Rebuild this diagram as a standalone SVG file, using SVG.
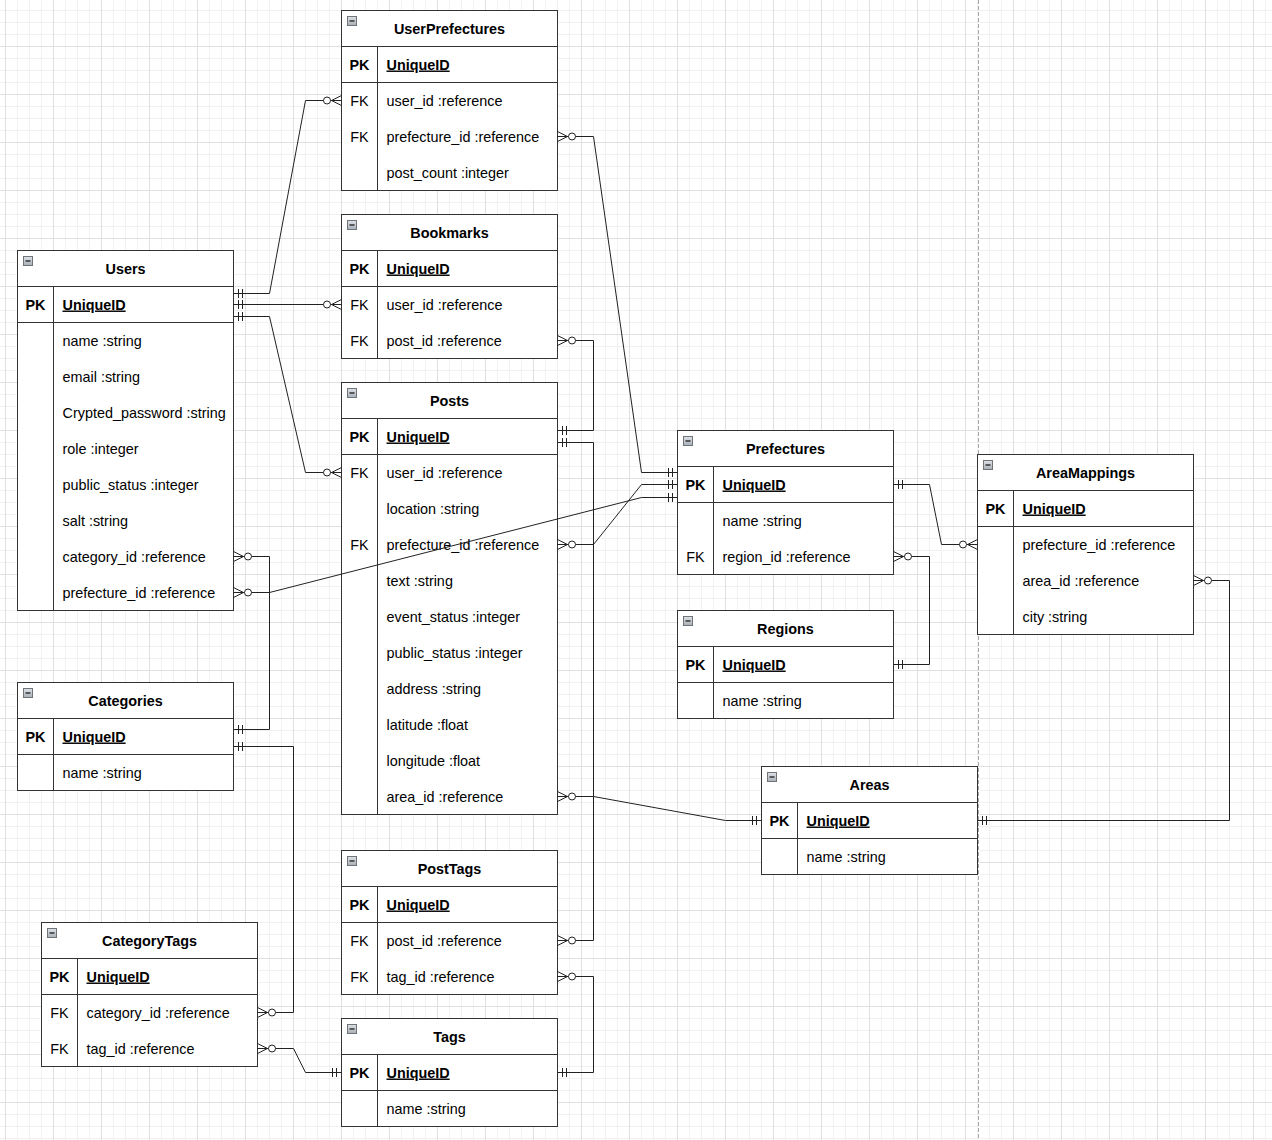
<svg xmlns="http://www.w3.org/2000/svg" width="1272" height="1140" viewBox="0 0 1272 1140">
<style>
text{font-family:"Liberation Sans",Arial,Helvetica,sans-serif;font-size:14.4px;fill:#000}
.box{fill:#fff;stroke:#333;stroke-width:1}
.ln{stroke:#333;stroke-width:1;fill:none}
.ttl{font-weight:bold;text-anchor:middle}
.pk{font-weight:bold;text-anchor:middle}
.fk{text-anchor:middle}
.uid{font-weight:bold;text-decoration:underline}
.ic{fill:url(#icg);stroke:#6f7479;stroke-width:1}
.icm{stroke:#333;stroke-width:1.5}
.edge{fill:none;stroke:#222;stroke-width:1}
</style>
<defs>
<pattern id="grid" width="48" height="48" patternUnits="userSpaceOnUse" x="5" y="-2">
<path d="M12.5 0V48M24.5 0V48M36.5 0V48M0 12.5H48M0 24.5H48M0 36.5H48" stroke="#f1f1f1" stroke-width="1" fill="none"/>
<path d="M0.5 0V48M0 0.5H48" stroke="#e0e0e0" stroke-width="1" fill="none"/>
</pattern>
<linearGradient id="icg" x1="0" y1="0" x2="0" y2="1">
<stop offset="0" stop-color="#dfe3e8"/>
<stop offset="1" stop-color="#a9afb7"/>
</linearGradient>
<marker id="one" viewBox="-20 -8 22 16" refX="0" refY="0" markerWidth="22" markerHeight="16" markerUnits="userSpaceOnUse" orient="auto-start-reverse">
<path d="M-5 -4.5V4.5M-9 -4.5V4.5" stroke="#222" stroke-width="1" fill="none"/>
</marker>
<marker id="many" viewBox="-22 -8 24 16" refX="0" refY="0" markerWidth="24" markerHeight="16" markerUnits="userSpaceOnUse" orient="auto-start-reverse">
<path d="M0 -5L-10 0L0 5M-10 0H0" stroke="#222" stroke-width="1" fill="none"/>
<circle cx="-14.5" cy="0" r="3.5" fill="#fff" stroke="#222" stroke-width="1"/>
</marker>
</defs>
<rect width="1272" height="1140" fill="#fff"/>
<rect width="1272" height="1140" fill="url(#grid)"/>
<line x1="978.5" y1="0" x2="978.5" y2="1140" stroke="#a8a8a8" stroke-width="1" stroke-dasharray="4 2"/>

<g id="UserPrefectures" transform="translate(341.5,10.5)">
<rect class="box" width="216" height="180"/>
<path class="ln" d="M0 36H216M0 72H216M36 36V180"/>
<rect class="ic" x="6" y="6" width="9" height="9"/><path class="icm" d="M8 10.5H13"/>
<text class="ttl" x="108" y="23">UserPrefectures</text>
<text class="pk" x="18" y="59">PK</text><text class="uid" x="45" y="59">UniqueID</text>
<text class="fk" x="18" y="95">FK</text><text x="45" y="95">user_id :reference</text>
<text class="fk" x="18" y="131">FK</text><text x="45" y="131">prefecture_id :reference</text>
<text x="45" y="167">post_count :integer</text>
</g>

<g id="Bookmarks" transform="translate(341.5,214.5)">
<rect class="box" width="216" height="144"/>
<path class="ln" d="M0 36H216M0 72H216M36 36V144"/>
<rect class="ic" x="6" y="6" width="9" height="9"/><path class="icm" d="M8 10.5H13"/>
<text class="ttl" x="108" y="23">Bookmarks</text>
<text class="pk" x="18" y="59">PK</text><text class="uid" x="45" y="59">UniqueID</text>
<text class="fk" x="18" y="95">FK</text><text x="45" y="95">user_id :reference</text>
<text class="fk" x="18" y="131">FK</text><text x="45" y="131">post_id :reference</text>
</g>

<g id="Users" transform="translate(17.5,250.5)">
<rect class="box" width="216" height="360"/>
<path class="ln" d="M0 36H216M0 72H216M36 36V360"/>
<rect class="ic" x="6" y="6" width="9" height="9"/><path class="icm" d="M8 10.5H13"/>
<text class="ttl" x="108" y="23">Users</text>
<text class="pk" x="18" y="59">PK</text><text class="uid" x="45" y="59">UniqueID</text>
<text x="45" y="95">name :string</text>
<text x="45" y="131">email :string</text>
<text x="45" y="167">Crypted_password :string</text>
<text x="45" y="203">role :integer</text>
<text x="45" y="239">public_status :integer</text>
<text x="45" y="275">salt :string</text>
<text x="45" y="311">category_id :reference</text>
<text x="45" y="347">prefecture_id :reference</text>
</g>

<g id="Posts" transform="translate(341.5,382.5)">
<rect class="box" width="216" height="432"/>
<path class="ln" d="M0 36H216M0 72H216M36 36V432"/>
<rect class="ic" x="6" y="6" width="9" height="9"/><path class="icm" d="M8 10.5H13"/>
<text class="ttl" x="108" y="23">Posts</text>
<text class="pk" x="18" y="59">PK</text><text class="uid" x="45" y="59">UniqueID</text>
<text class="fk" x="18" y="95">FK</text><text x="45" y="95">user_id :reference</text>
<text x="45" y="131">location :string</text>
<text class="fk" x="18" y="167">FK</text><text x="45" y="167">prefecture_id :reference</text>
<text x="45" y="203">text :string</text>
<text x="45" y="239">event_status :integer</text>
<text x="45" y="275">public_status :integer</text>
<text x="45" y="311">address :string</text>
<text x="45" y="347">latitude :float</text>
<text x="45" y="383">longitude :float</text>
<text x="45" y="419">area_id :reference</text>
</g>

<g id="Categories" transform="translate(17.5,682.5)">
<rect class="box" width="216" height="108"/>
<path class="ln" d="M0 36H216M0 72H216M36 36V108"/>
<rect class="ic" x="6" y="6" width="9" height="9"/><path class="icm" d="M8 10.5H13"/>
<text class="ttl" x="108" y="23">Categories</text>
<text class="pk" x="18" y="59">PK</text><text class="uid" x="45" y="59">UniqueID</text>
<text x="45" y="95">name :string</text>
</g>

<g id="CategoryTags" transform="translate(41.5,922.5)">
<rect class="box" width="216" height="144"/>
<path class="ln" d="M0 36H216M0 72H216M36 36V144"/>
<rect class="ic" x="6" y="6" width="9" height="9"/><path class="icm" d="M8 10.5H13"/>
<text class="ttl" x="108" y="23">CategoryTags</text>
<text class="pk" x="18" y="59">PK</text><text class="uid" x="45" y="59">UniqueID</text>
<text class="fk" x="18" y="95">FK</text><text x="45" y="95">category_id :reference</text>
<text class="fk" x="18" y="131">FK</text><text x="45" y="131">tag_id :reference</text>
</g>

<g id="PostTags" transform="translate(341.5,850.5)">
<rect class="box" width="216" height="144"/>
<path class="ln" d="M0 36H216M0 72H216M36 36V144"/>
<rect class="ic" x="6" y="6" width="9" height="9"/><path class="icm" d="M8 10.5H13"/>
<text class="ttl" x="108" y="23">PostTags</text>
<text class="pk" x="18" y="59">PK</text><text class="uid" x="45" y="59">UniqueID</text>
<text class="fk" x="18" y="95">FK</text><text x="45" y="95">post_id :reference</text>
<text class="fk" x="18" y="131">FK</text><text x="45" y="131">tag_id :reference</text>
</g>

<g id="Tags" transform="translate(341.5,1018.5)">
<rect class="box" width="216" height="108"/>
<path class="ln" d="M0 36H216M0 72H216M36 36V108"/>
<rect class="ic" x="6" y="6" width="9" height="9"/><path class="icm" d="M8 10.5H13"/>
<text class="ttl" x="108" y="23">Tags</text>
<text class="pk" x="18" y="59">PK</text><text class="uid" x="45" y="59">UniqueID</text>
<text x="45" y="95">name :string</text>
</g>

<g id="Prefectures" transform="translate(677.5,430.5)">
<rect class="box" width="216" height="144"/>
<path class="ln" d="M0 36H216M0 72H216M36 36V144"/>
<rect class="ic" x="6" y="6" width="9" height="9"/><path class="icm" d="M8 10.5H13"/>
<text class="ttl" x="108" y="23">Prefectures</text>
<text class="pk" x="18" y="59">PK</text><text class="uid" x="45" y="59">UniqueID</text>
<text x="45" y="95">name :string</text>
<text class="fk" x="18" y="131">FK</text><text x="45" y="131">region_id :reference</text>
</g>

<g id="Regions" transform="translate(677.5,610.5)">
<rect class="box" width="216" height="108"/>
<path class="ln" d="M0 36H216M0 72H216M36 36V108"/>
<rect class="ic" x="6" y="6" width="9" height="9"/><path class="icm" d="M8 10.5H13"/>
<text class="ttl" x="108" y="23">Regions</text>
<text class="pk" x="18" y="59">PK</text><text class="uid" x="45" y="59">UniqueID</text>
<text x="45" y="95">name :string</text>
</g>

<g id="Areas" transform="translate(761.5,766.5)">
<rect class="box" width="216" height="108"/>
<path class="ln" d="M0 36H216M0 72H216M36 36V108"/>
<rect class="ic" x="6" y="6" width="9" height="9"/><path class="icm" d="M8 10.5H13"/>
<text class="ttl" x="108" y="23">Areas</text>
<text class="pk" x="18" y="59">PK</text><text class="uid" x="45" y="59">UniqueID</text>
<text x="45" y="95">name :string</text>
</g>

<g id="AreaMappings" transform="translate(977.5,454.5)">
<rect class="box" width="216" height="180"/>
<path class="ln" d="M0 36H216M0 72H216M36 36V180"/>
<rect class="ic" x="6" y="6" width="9" height="9"/><path class="icm" d="M8 10.5H13"/>
<text class="ttl" x="108" y="23">AreaMappings</text>
<text class="pk" x="18" y="59">PK</text><text class="uid" x="45" y="59">UniqueID</text>
<text x="45" y="95">prefecture_id :reference</text>
<text x="45" y="131">area_id :reference</text>
<text x="45" y="167">city :string</text>
</g>

<g id="connectors">
<path class="edge" d="M233.5 293.5H269.5L305.5 100.5H341.5" marker-start="url(#one)" marker-end="url(#many)"/>
<path class="edge" d="M233.5 304.5H341.5" marker-start="url(#one)" marker-end="url(#many)"/>
<path class="edge" d="M233.5 316.5H269.5L305.5 472.5H341.5" marker-start="url(#one)" marker-end="url(#many)"/>
<path class="edge" d="M557.5 136.5H593.5L641.5 472.5H677.5" marker-start="url(#many)" marker-end="url(#one)"/>
<path class="edge" d="M557.5 544.5H593.5L641.5 484.5H677.5" marker-start="url(#many)" marker-end="url(#one)"/>
<path class="edge" d="M233.5 592.5H269.5L641.5 497.5H677.5" marker-start="url(#many)" marker-end="url(#one)"/>
<path class="edge" d="M233.5 556.5H269.5V729.5H233.5" marker-start="url(#many)" marker-end="url(#one)"/>
<path class="edge" d="M233.5 746.5H293.5V1012.5H257.5" marker-start="url(#one)" marker-end="url(#many)"/>
<path class="edge" d="M257.5 1048.5H293.5L305.5 1072.5H341.5" marker-start="url(#many)" marker-end="url(#one)"/>
<path class="edge" d="M557.5 340.5H593.5V430.5H557.5" marker-start="url(#many)" marker-end="url(#one)"/>
<path class="edge" d="M557.5 442.5H593.5V940.5H557.5" marker-start="url(#one)" marker-end="url(#many)"/>
<path class="edge" d="M557.5 976.5H593.5V1072.5H557.5" marker-start="url(#many)" marker-end="url(#one)"/>
<path class="edge" d="M557.5 796.5H593.5L725.5 820.5H761.5" marker-start="url(#many)" marker-end="url(#one)"/>
<path class="edge" d="M893.5 484.5H929.5L941.5 544.5H977.5" marker-start="url(#one)" marker-end="url(#many)"/>
<path class="edge" d="M893.5 556.5H929.5V664.5H893.5" marker-start="url(#many)" marker-end="url(#one)"/>
<path class="edge" d="M1193.5 580.5H1229.5V820.5H977.5" marker-start="url(#many)" marker-end="url(#one)"/>
</g>
</svg>
